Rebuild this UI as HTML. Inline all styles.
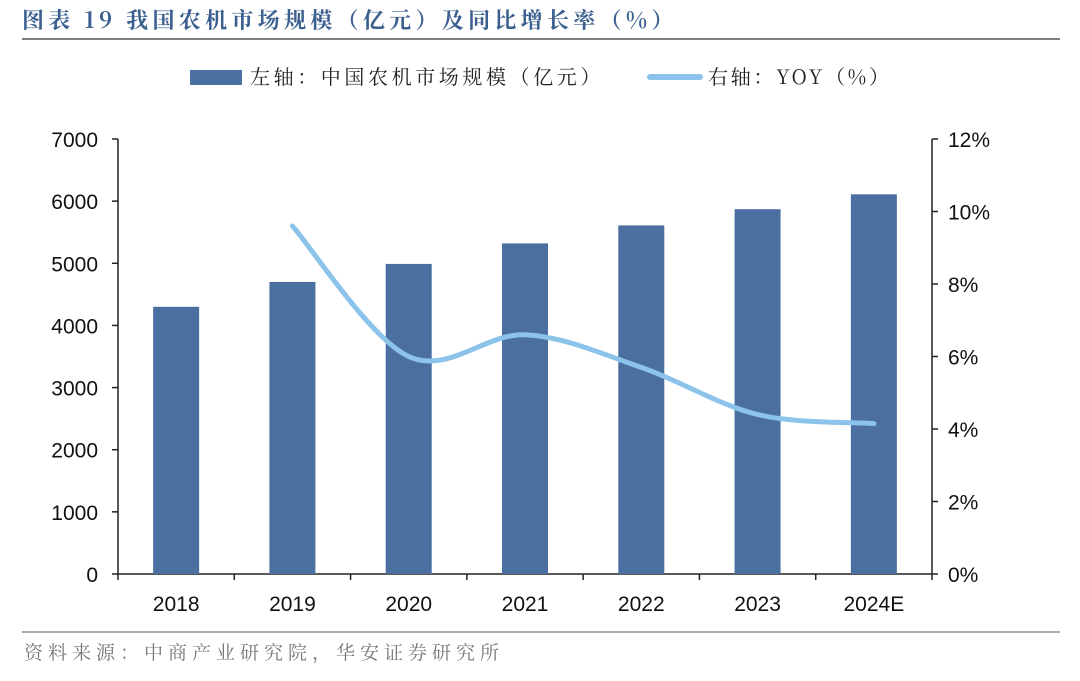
<!DOCTYPE html>
<html><head><meta charset="utf-8"><style>
body{margin:0;background:#fff;width:1080px;height:676px;overflow:hidden;font-family:"Liberation Sans","Noto Sans CJK SC",sans-serif}
</style></head><body>
<svg id="c" width="1080" height="676"></svg>
<script>
const categories=["2018","2019","2020","2021","2022","2023","2024E"];
const marketSize=[4300,4700,4990,5320,5610,5870,6110];
const yoy=[null,9.6,6.0,6.6,5.7,4.4,4.15];
const leftTicks=[0,1000,2000,3000,4000,5000,6000,7000];
const rightTicks=[0,2,4,6,8,10,12];
const NS="http://www.w3.org/2000/svg",svg=document.getElementById('c');
function el(t,a,txt){const e=document.createElementNS(NS,t);for(const k in a)e.setAttribute(k,a[k]);if(txt!=null)e.textContent=txt;svg.appendChild(e);return e;}
const X0=118,X1=932,Y0=574,Y1=139;
const yL=v=>Y0-(v/7000)*(Y0-Y1), yR=v=>Y0-(v/12)*(Y0-Y1);
const band=(X1-X0)/categories.length, xc=i=>X0+band*(i+0.5);
let e;
e=el('text',{x:22,y:28,fill:'#3b5f8f','font-size':22,'font-weight':'bold','letter-spacing':4.3,'font-family':'"Noto Serif CJK SC","Noto Sans CJK SC",serif'},'图表 19 我国农机市场规模（亿元）及同比增长率（%）');

e=el('line',{x1:22,y1:39,x2:1060,y2:39,stroke:'#333','stroke-width':1.2});

e=el('rect',{x:190,y:70,width:52,height:15,fill:'#4a6fa0'});

e=el('text',{x:250,y:84,'font-size':20,fill:'#222','letter-spacing':3.6,'font-family':'"Noto Serif CJK SC",serif'},'左轴：中国农机市场规模（亿元）');

e=el('line',{x1:650,y1:77,x2:700,y2:77,stroke:'#8cc3ea','stroke-width':6,'stroke-linecap':'round'});

e=el('text',{x:708,y:84,'font-size':20,fill:'#222','letter-spacing':2.7,'font-family':'"Noto Serif CJK SC",serif'},'右轴：YOY（%）');

e=el('line',{x1:X0,y1:Y1,x2:X0,y2:Y0,stroke:'#222','stroke-width':1.5});

e=el('line',{x1:X1,y1:Y1,x2:X1,y2:Y0,stroke:'#222','stroke-width':1.5});

e=el('line',{x1:X0,y1:Y0,x2:X1,y2:Y0,stroke:'#222','stroke-width':1.5});

leftTicks.forEach(v=>{const y=yL(v);
 e=el('line',{x1:X0-6,y1:y,x2:X0,y2:y,stroke:'#222','stroke-width':1.5});
 
 e=el('text',{x:X0-20,y:y+8,'text-anchor':'end','font-size':21,fill:'#111'},String(v));
 });
rightTicks.forEach(v=>{const y=yR(v);
 e=el('line',{x1:X1,y1:y,x2:X1+6,y2:y,stroke:'#222','stroke-width':1.5});
 
 e=el('text',{x:X1+16,y:y+8,'font-size':21,fill:'#111'},v+'%');
 });
for(let i=0;i<=categories.length;i++){
 e=el('line',{x1:X0+band*i,y1:Y0,x2:X0+band*i,y2:Y0+6,stroke:'#222','stroke-width':1.5});
 }
categories.forEach((c,i)=>{
 e=el('rect',{x:xc(i)-23,y:yL(marketSize[i]),width:46,height:Y0-yL(marketSize[i]),fill:'#4a6fa0'});
 
 e=el('text',{x:xc(i),y:Y0+37,'text-anchor':'middle','font-size':21,fill:'#111'},c);
 });
const pts=[];yoy.forEach((v,i)=>{if(v!=null)pts.push([xc(i),yR(v)]);});
let d='M'+pts[0].join(',');
for(let i=0;i<pts.length-1;i++){const p0=pts[Math.max(0,i-1)],p1=pts[i],p2=pts[i+1],p3=pts[Math.min(pts.length-1,i+2)];
 const c1=[p1[0]+(p2[0]-p0[0])/6,p1[1]+(p2[1]-p0[1])/6],c2=[p2[0]-(p3[0]-p1[0])/6,p2[1]-(p3[1]-p1[1])/6];
 d+=' C'+c1.join(',')+' '+c2.join(',')+' '+p2.join(',');}
e=el('path',{d:d,fill:'none',stroke:'#8cc3ea','stroke-width':5,'stroke-linecap':'round'});

e=el('line',{x1:22,y1:632,x2:1060,y2:632,stroke:'#555','stroke-width':1});

e=el('text',{x:24,y:659,'font-size':19,fill:'#777','letter-spacing':5,'font-family':'"Noto Serif CJK SC",serif'},'资料来源：中商产业研究院，华安证券研究所');

</script></body></html>
